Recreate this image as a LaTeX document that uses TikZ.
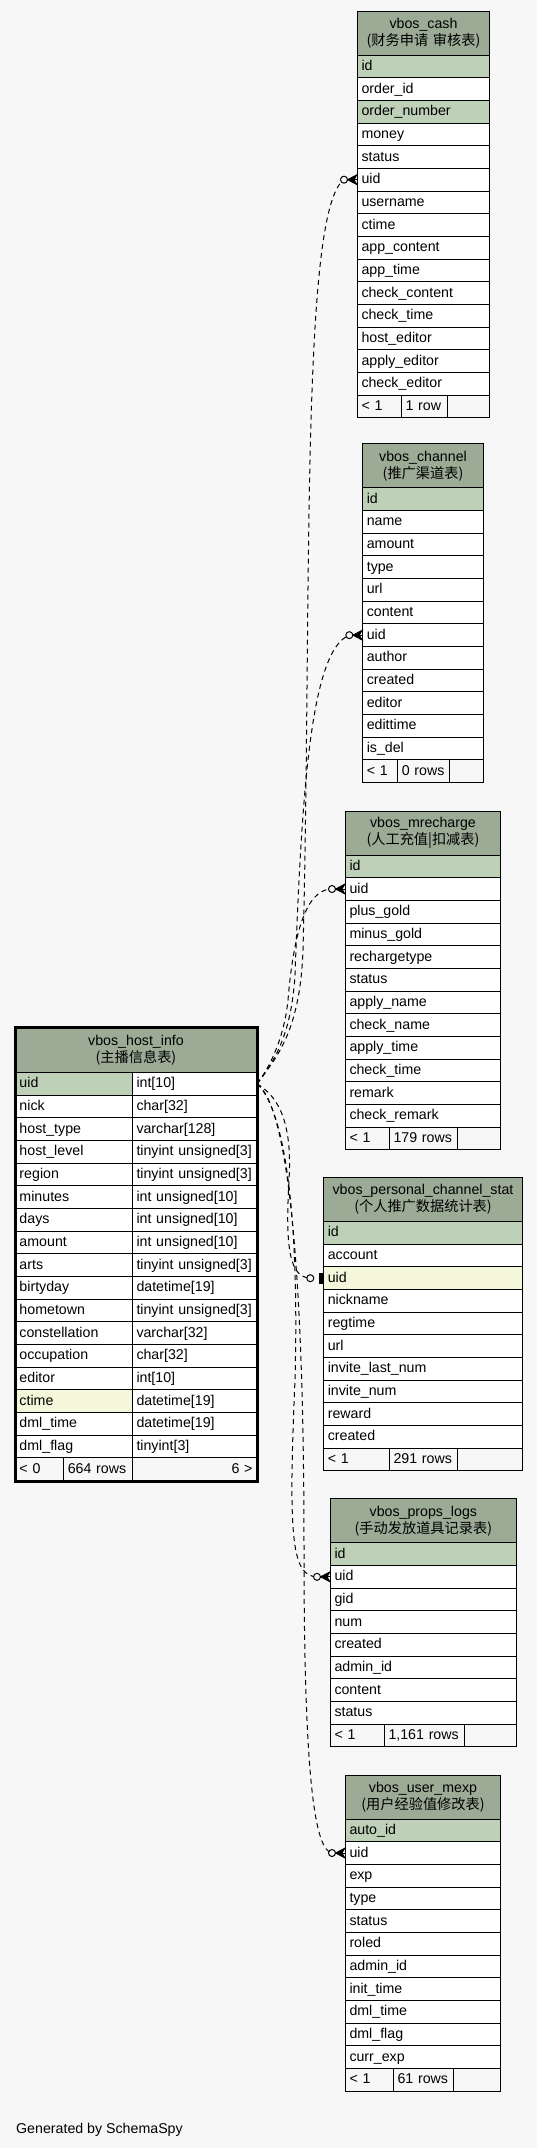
\documentclass[tikz,border=0pt]{standalone}
\usepackage{fontspec}
\setmainfont{Liberation Sans}
\newfontfamily\cjk{Noto Sans CJK SC}
\usetikzlibrary{calc}
\definecolor{bgc}{HTML}{F7F7F7}
\definecolor{hdr}{HTML}{9BAB96}
\definecolor{pkc}{HTML}{BED1B8}
\definecolor{idx}{HTML}{F4F7DA}

\newcommand\dbtable[7]{%
  \pgfmathsetmacro\tw{#4-8}%
  \node[headbox, text width=\tw pt] (#1-h) at (#2,#3) {#5\\{\cjk #6}};
  \foreach \rc/\rt [count=\i from 0] in {#7} {
    \node[rowbox, fill=\rc, text width=\tw pt] (#1-\i) at (#2,{#3+44+\i*22.67}) {\rt};
  }
}
\newcommand\dbfoot[9]{%
  \pgfmathsetmacro\fy{#3+44+#4*22.67}%
  \pgfmathsetmacro\wa{#5-#2-8}%
  \pgfmathsetmacro\wb{#6-#5-8}%
  \pgfmathsetmacro\wc{#7-#6-8}%
  \node[footbox, text width=\wa pt] (#1-fa) at (#2,\fy) {#8};
  \node[footbox, text width=\wb pt] (#1-fb) at (#5,\fy) {#9};
  \node[footbox, text width=\wc pt] (#1-fc) at (#6,\fy) {};
}
\newcommand\crowmark[1]{%
  \draw[line width=1pt, fill=bgc] ($(#1.west)+(-13,0)$) circle (3.5pt);
  \filldraw[line width=0.8pt, line join=miter] ($(#1.west)+(-9.5,0)$) -- ($(#1.west)+(0,-5)$) -- ($(#1.west)+(-3,0)$) -- ($(#1.west)+(0,5)$) -- cycle;
  \draw[line width=1pt] ($(#1.west)+(-9.5,0)$) -- (#1.west);
}

\begin{document}
\begin{tikzpicture}[x=1pt,y=-1pt,
  every node/.style={font=\fontsize{14.2}{17}\selectfont},
  headbox/.style={draw, line width=1pt, fill=hdr, anchor=north west, minimum height=44pt, inner xsep=4pt, inner ysep=0pt, align=center},
  rowbox/.style={draw, line width=1pt, anchor=north west, minimum height=22.67pt, inner xsep=4pt, inner ysep=0pt, text height=11pt, text depth=3pt, align=left},
  footbox/.style={rowbox, fill=bgc},
  rel/.style={draw, line width=1pt, dash pattern=on 5pt off 4pt},
]
\useasboundingbox (0,0) rectangle (537,2148);
\fill[bgc] (0,0) rectangle (537,2148);

% ---- child tables
\dbtable{cash}{357}{10.5}{132}{vbos\_cash}{(财务申请 审核表)}{pkc/id, white/order\_id, pkc/order\_number, white/money, white/status, white/uid, white/username, white/ctime, white/app\_content, white/app\_time, white/check\_content, white/check\_time, white/host\_editor, white/apply\_editor, white/check\_editor}
\dbfoot{cash}{357}{10.5}{15}{401}{446.7}{489}{< 1}{1 row}

\dbtable{chan}{362.3}{443.3}{120.4}{vbos\_channel}{(推广渠道表)}{pkc/id, white/name, white/amount, white/type, white/url, white/content, white/uid, white/author, white/created, white/editor, white/edittime, white/is\_del}
\dbfoot{chan}{362.3}{443.3}{12}{397.3}{449.3}{482.7}{< 1}{0 rows}

\dbtable{mrec}{345}{810.5}{155}{vbos\_mrecharge}{(人工充值|扣减表)}{pkc/id, white/uid, white/plus\_gold, white/minus\_gold, white/rechargetype, white/status, white/apply\_name, white/check\_name, white/apply\_time, white/check\_time, white/remark, white/check\_remark}
\dbfoot{mrec}{345}{810.5}{12}{389}{457.3}{500}{< 1}{179 rows}

\dbtable{pers}{323.3}{1177}{198.4}{vbos\_personal\_channel\_stat}{(个人推广数据统计表)}{pkc/id, white/account, idx/uid, white/nickname, white/regtime, white/url, white/invite\_last\_num, white/invite\_num, white/reward, white/created}
\dbfoot{pers}{323.3}{1177}{10}{389}{457}{521.7}{< 1}{291 rows}

\dbtable{prop}{330}{1498.3}{185.7}{vbos\_props\_logs}{(手动发放道具记录表)}{pkc/id, white/uid, white/gid, white/num, white/created, white/admin\_id, white/content, white/status}
\dbfoot{prop}{330}{1498.3}{8}{384}{464}{515.7}{< 1}{1,161 rows}

\dbtable{mexp}{345}{1774.5}{155}{vbos\_user\_mexp}{(用户经验值修改表)}{pkc/auto\_id, white/uid, white/exp, white/type, white/status, white/roled, white/admin\_id, white/init\_time, white/dml\_time, white/dml\_flag, white/curr\_exp}
\dbfoot{mexp}{345}{1774.5}{11}{393}{453.3}{500}{< 1}{61 rows}

% ---- host table
\node[headbox, text width=233pt, minimum height=45pt] (host-h) at (15,1027) {vbos\_host\_info\\{\cjk (主播信息表)}};
\foreach \nc/\nt/\tt [count=\i from 0] in {pkc/uid/int[10], white/nick/char[32], white/host\_type/varchar[128], white/host\_level/tinyint unsigned[3], white/region/tinyint unsigned[3], white/minutes/int unsigned[10], white/days/int unsigned[10], white/amount/int unsigned[10], white/arts/tinyint unsigned[3], white/birtyday/datetime[19], white/hometown/tinyint unsigned[3], white/constellation/varchar[32], white/occupation/char[32], white/editor/int[10], idx/ctime/datetime[19], white/dml\_time/datetime[19], white/dml\_flag/tinyint[3]} {
  \node[rowbox, fill=\nc, text width=109pt] (host-\i) at (15,{1072+\i*22.67}) {\nt};
  \node[rowbox, fill=white, text width=116pt] (host-t\i) at (132,{1072+\i*22.67}) {\tt};
}
\node[footbox, text width=40.3pt] (host-fa) at (15,1457.4) {< 0};
\node[footbox, text width=60.7pt] (host-fb) at (63.3,1457.4) {664 rows};
\node[footbox, text width=116pt, align=right] (host-fc) at (132,1457.4) {6 >};
\draw[line width=3pt] (host-h.north west) rectangle (host-fc.south east);

% ---- connectors
\coordinate (cash-c) at ($(cash-5.west)+(-13,0)$);
\coordinate (chan-c) at ($(chan-6.west)+(-13,0)$);
\coordinate (mrec-c) at ($(mrec-1.west)+(-13,0)$);
\coordinate (pers-c) at ($(pers-2.west)+(-13,0)$);
\coordinate (prop-c) at ($(prop-1.west)+(-13,0)$);
\coordinate (mexp-c) at ($(mexp-1.west)+(-13,0)$);

\draw[rel] (host-t0.east) .. controls (274,1060) and (300,1035) .. (303,950) .. controls (312,600) and (300,210) .. (cash-c);
\draw[rel] (host-t0.east) .. controls (271,1065) and (291,1040) .. (295,975) .. controls (302,780) and (312,650) .. (chan-c);
\draw[rel] (host-t0.east) .. controls (268,1070) and (284,1040) .. (288,1000) .. controls (295,915) and (312,889) .. (mrec-c);
\draw[rel] (host-t0.east) .. controls (274,1094) and (293,1115) .. (289,1180) .. controls (285,1250) and (290,1277) .. (pers-c);
\draw[rel] (host-t0.east) .. controls (280,1104) and (300,1190) .. (295,1380) .. controls (288,1540) and (292,1576) .. (prop-c);
\draw[rel] (host-t0.east) .. controls (286,1104) and (304,1250) .. (304,1550) .. controls (304,1790) and (316,1850) .. (mexp-c);

\crowmark{cash-5}
\crowmark{chan-6}
\crowmark{mrec-1}
\crowmark{prop-1}
\crowmark{mexp-1}
\draw[line width=1pt, fill=bgc] (pers-c) circle (3.5pt);
\fill ($(pers-2.west)+(-4,-5.5)$) rectangle ($(pers-2.west)+(0,5.5)$);

\node[anchor=base west, inner sep=0pt] (gen) at (16,2133) {Generated by SchemaSpy};
\end{tikzpicture}
\end{document}
